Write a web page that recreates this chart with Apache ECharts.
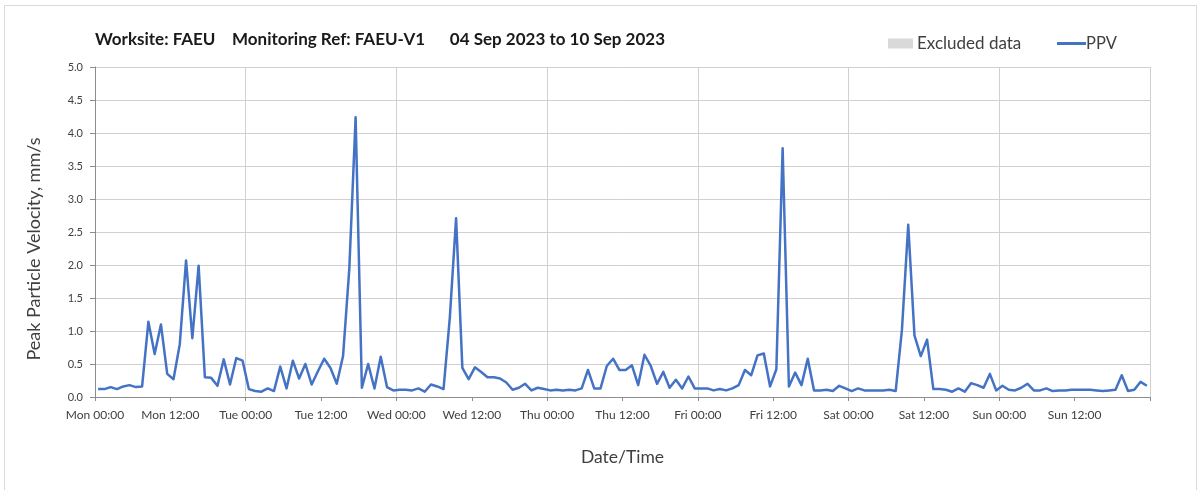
<!DOCTYPE html>
<html>
<head>
<meta charset="utf-8">
<title>PPV FAEU-V1</title>
<script src="https://cdn.jsdelivr.net/npm/echarts@6/dist/echarts.min.js"></script>
<style>
  html, body { margin: 0; padding: 0; background: #fff; }
  #chart { width: 1203px; height: 490px; }
</style>
</head>
<body>
<div id="chart"></div>
<script>
// Hourly peak particle velocity readings (mm/s), 04 Sep 2023 00:00 to 10 Sep 2023 23:00,
// each plotted at the middle of its hour.
const ppv = [
  0.12, 0.12, 0.15, 0.12, 0.16, 0.18, 0.15, 0.16, 1.14, 0.65, 1.10, 0.35,
  0.27, 0.80, 2.07, 0.89, 1.99, 0.30, 0.29, 0.17, 0.57, 0.19, 0.59, 0.55,
  0.12, 0.09, 0.08, 0.13, 0.09, 0.46, 0.13, 0.55, 0.28, 0.50, 0.19, 0.39,
  0.58, 0.44, 0.20, 0.62, 1.95, 4.24, 0.14, 0.50, 0.13, 0.61, 0.15, 0.10,
  0.11, 0.11, 0.10, 0.13, 0.08, 0.19, 0.16, 0.12, 1.20, 2.71, 0.44, 0.27,
  0.45, 0.38, 0.30, 0.30, 0.28, 0.22, 0.11, 0.14, 0.20, 0.10, 0.14, 0.12,
  0.10, 0.11, 0.10, 0.11, 0.10, 0.13, 0.41, 0.13, 0.13, 0.47, 0.58, 0.41,
  0.41, 0.48, 0.18, 0.64, 0.47, 0.20, 0.38, 0.14, 0.26, 0.13, 0.31, 0.13,
  0.13, 0.13, 0.10, 0.12, 0.10, 0.13, 0.18, 0.41, 0.33, 0.63, 0.66, 0.16,
  0.42, 3.77, 0.16, 0.37, 0.18, 0.58, 0.10, 0.10, 0.11, 0.09, 0.17, 0.13,
  0.09, 0.13, 0.10, 0.10, 0.10, 0.10, 0.11, 0.09, 1.02, 2.61, 0.93, 0.62,
  0.87, 0.12, 0.12, 0.11, 0.08, 0.13, 0.08, 0.21, 0.18, 0.14, 0.35, 0.10,
  0.17, 0.11, 0.10, 0.14, 0.20, 0.10, 0.10, 0.13, 0.09, 0.10, 0.10, 0.11,
  0.11, 0.11, 0.11, 0.10, 0.09, 0.10, 0.11, 0.33, 0.09, 0.11, 0.23, 0.17
];

// Axis labels every 12 hours from Monday 00:00
const tickLabels = [
  'Mon 00:00', 'Mon 12:00', 'Tue 00:00', 'Tue 12:00', 'Wed 00:00', 'Wed 12:00',
  'Thu 00:00', 'Thu 12:00', 'Fri 00:00', 'Fri 12:00', 'Sat 00:00', 'Sat 12:00',
  'Sun 00:00', 'Sun 12:00', ''
];

const titleText = 'Worksite: FAEU    Monitoring Ref: FAEU-V1      04 Sep 2023 to 10 Sep 2023';
const hoursInWeek = 168;

const points = ppv.map((v, i) => [i + 0.5, v]);

const font = 'Lato, "Open Sans", "Noto Sans", sans-serif';
const axisGrey = '#8c8c8c';
const gridGrey = '#d0d0d0';

const chart = echarts.init(document.getElementById('chart'), null, { renderer: 'canvas' });

chart.setOption({
  animation: false,
  backgroundColor: '#ffffff',
  textStyle: { fontFamily: font },
  graphic: [{
    type: 'rect',
    shape: { x: 4.5, y: 5.5, width: 1192, height: 500 },
    style: { fill: 'none', stroke: '#d9d9d9', lineWidth: 1 },
    silent: true
  }],
  title: {
    text: titleText,
    left: 90,
    top: 26,
    textStyle: { fontFamily: font, fontSize: 17, fontWeight: 'bold', color: '#1a1a1a' }
  },
  legend: [{
    data: [{ name: 'Excluded data', icon: 'rect' }],
    left: 883,
    top: 30,
    itemWidth: 25,
    itemHeight: 10,
    itemGap: 4,
    textStyle: { fontFamily: font, fontSize: 17, color: '#404040', padding: [0, 0, 0, -1] },
    selectedMode: false
  }, {
    data: [{ name: 'PPV', icon: 'rect' }],
    left: 1052,
    top: 30,
    itemWidth: 29,
    itemHeight: 3,
    textStyle: { fontFamily: font, fontSize: 16.5, color: '#404040', padding: [0, 0, 0, -5] },
    selectedMode: false
  }],
  grid: { left: 95, right: 53, top: 67, bottom: 93, containLabel: false },
  xAxis: [{
    type: 'value',
    min: 0,
    max: hoursInWeek,
    interval: 12,
    name: 'Date/Time',
    nameLocation: 'middle',
    nameGap: 51,
    nameTextStyle: { fontFamily: font, fontSize: 17.5, color: '#404040' },
    axisLine: { show: true, onZero: false, lineStyle: { color: axisGrey, width: 1 } },
    axisTick: { show: true, length: 4, lineStyle: { color: axisGrey } },
    axisLabel: {
      margin: 12,
      fontFamily: font,
      fontSize: 12,
      color: '#404040',
      formatter: (v) => tickLabels[Math.round(v / 12)] || ''
    },
    splitLine: { show: false }
  }, {
    type: 'value',
    position: 'bottom',
    min: 0,
    max: hoursInWeek,
    interval: 24,
    axisLine: { show: false },
    axisTick: { show: false },
    axisLabel: { show: false },
    splitLine: { show: true, lineStyle: { color: gridGrey, width: 1 } }
  }],
  yAxis: {
    type: 'value',
    min: 0,
    max: 5,
    interval: 0.5,
    name: 'Peak Particle Velocity, mm/s',
    nameLocation: 'middle',
    nameGap: 52,
    nameRotate: 90,
    nameTextStyle: { fontFamily: font, fontSize: 18, color: '#404040', padding: [0, 34, 0, 0] },
    axisLine: { show: true, lineStyle: { color: axisGrey, width: 1 } },
    axisTick: { show: true, length: 5, lineStyle: { color: axisGrey } },
    axisLabel: {
      margin: 12,
      fontFamily: font,
      fontSize: 11,
      color: '#404040',
      padding: [3, 0, 0, 0],
      formatter: (v) => v.toFixed(1)
    },
    splitLine: { show: true, lineStyle: { color: gridGrey, width: 1 } }
  },
  series: [{
    name: 'Excluded data',
    type: 'bar',
    xAxisIndex: 0,
    data: [],
    itemStyle: { color: '#d9d9d9' }
  }, {
    name: 'PPV',
    type: 'line',
    xAxisIndex: 0,
    data: points,
    showSymbol: false,
    symbol: 'none',
    lineStyle: { color: '#4472c4', width: 2.5, join: 'round' },
    itemStyle: { color: '#4472c4' },
    z: 3
  }]
});
</script>
</body>
</html>
